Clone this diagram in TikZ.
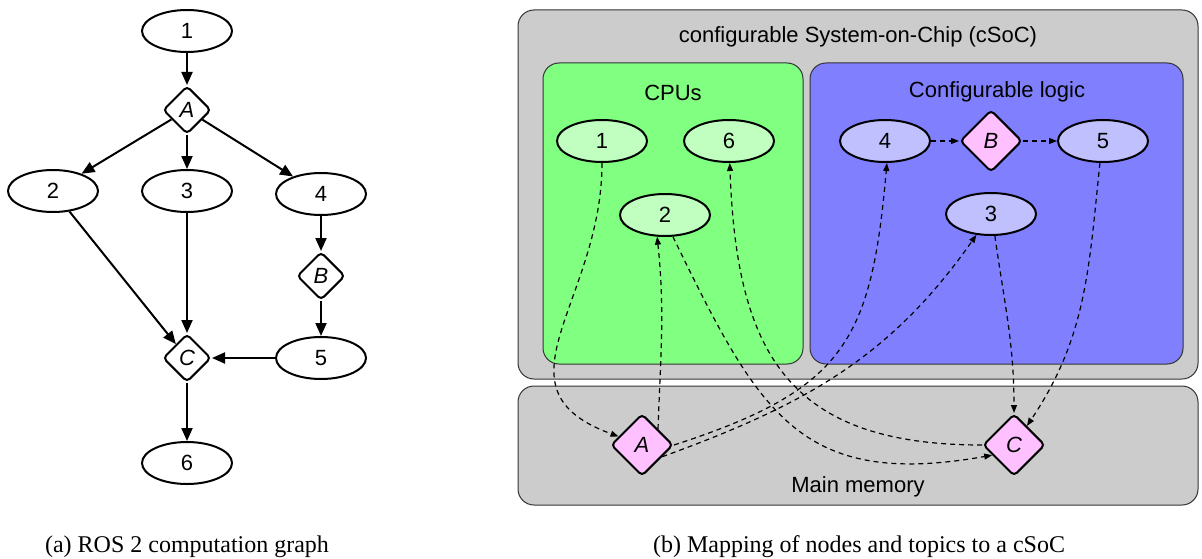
\documentclass[tikz,border=0pt]{standalone}
\usepackage{fontspec}
\setmainfont{Liberation Serif}
\setsansfont{Liberation Sans}
\usepackage{tikz}
\usetikzlibrary{shapes.geometric}
\usetikzlibrary{arrows, arrows.meta}

\definecolor{socgray}{HTML}{CCCCCC}
\definecolor{cpugreen}{HTML}{80FF80}
\definecolor{fpgablue}{HTML}{8080FF}
\definecolor{nodegreen}{HTML}{C0FFC0}
\definecolor{nodeblue}{HTML}{C0C0FF}
\definecolor{topicpink}{HTML}{FFC0FF}
\definecolor{boxline}{HTML}{333333}

\begin{document}
\begin{tikzpicture}[x=0.5pt, y=0.5pt,
  rosnode/.style={ellipse, draw, line width=1pt, minimum width=45pt, minimum height=21pt,
    inner sep=0pt, font=\sffamily\fontsize{11}{13}\selectfont},
  rostopic/.style={diamond, draw, line width=1pt, rounded corners=2pt, minimum width=24pt,
    minimum height=24pt, inner sep=0pt, font=\sffamily\itshape\fontsize{11}{13}\selectfont},
  bigtopic/.style={rostopic, fill=topicpink, minimum width=31pt, minimum height=31pt},
  unit/.style={draw=boxline, line width=0.5pt, rounded corners=8pt},
  label/.style={font=\sffamily\fontsize{11}{13}\selectfont},
  caption/.style={font=\fontsize{12}{14}\selectfont, inner sep=0pt},
  edge/.style={-{Triangle[length=6.5pt,width=5.5pt]}, line width=1pt},
  mapping/.style={-{Triangle[length=4pt,width=3pt]}, line width=0.6pt, dash pattern=on 2.5pt off 2pt}]

  \useasboundingbox (0,0) rectangle (1202,558);

  % (a) computation graph
  \node[rosnode] (l1) at (187,527) {1};
  \node[rostopic] (lA) at (187,448) {A};
  \node[rosnode] (l2) at (53,367) {2};
  \node[rosnode] (l3) at (187,367) {3};
  \node[rosnode] (l4) at (321,364) {4};
  \node[rostopic] (lB) at (321,282) {B};
  \node[rosnode] (l5) at (321,200) {5};
  \node[rostopic] (lC) at (187,200) {C};
  \node[rosnode] (l6) at (187,95) {6};

  \draw[edge] (l1) -- (lA);
  \draw[edge] (lA) -- (l2);
  \draw[edge] (lA) -- (l3);
  \draw[edge] (lA) -- (l4);
  \draw[edge] (l2) -- (lC);
  \draw[edge] (l3) -- (lC);
  \draw[edge] (l4) -- (lB);
  \draw[edge] (lB) -- (l5);
  \draw[edge] (l5) -- (lC);
  \draw[edge] (lC) -- (l6);

  \node[caption] (capa) at (187,11) {(a) ROS 2 computation graph};

  % (b) mapping to the cSoC
  \draw[unit, fill=socgray] (518,548) rectangle (1198,179);
  \draw[unit, fill=cpugreen] (543,495) rectangle (803,194);
  \draw[unit, fill=fpgablue] (810,495) rectangle (1183,194);
  \draw[unit, fill=socgray] (518,172) rectangle (1198,53);

  \node[label] (soc) at (858,521) {configurable System-on-Chip (cSoC)};
  \node[label] (cpus) at (673,465) {CPUs};
  \node[label] (fpga) at (997,466) {Configurable logic};
  \node[label] (mem) at (858,71) {Main memory};

  \node[rosnode, fill=nodegreen] (r1) at (602,417) {1};
  \node[rosnode, fill=nodegreen] (r6) at (729,417) {6};
  \node[rosnode, fill=nodegreen] (r2) at (665,343) {2};
  \node[rosnode, fill=nodeblue] (r4) at (885,417) {4};
  \node[bigtopic] (rB) at (991,417) {B};
  \node[rosnode, fill=nodeblue] (r5) at (1103,417) {5};
  \node[rosnode, fill=nodeblue] (r3) at (991,344) {3};
  \node[bigtopic] (rA) at (642,113) {A};
  \node[bigtopic] (rC) at (1014,113) {C};

  \draw[mapping] (r4) -- (rB);
  \draw[mapping] (rB) -- (r5);
  \draw[mapping] (r1) to[out=-90, in=160, looseness=1.3] (rA);
  \draw[mapping] (rA.north east) to[out=88, in=-84] (r2.-110);
  \draw[mapping] (rA.east) to[out=18, in=-95, looseness=1.3] (r4.-85);
  \draw[mapping] (rA.-30) to[out=20, in=-125] (r3);
  \draw[mapping] (r2.-70) to[out=-64, in=190, looseness=1.3] (rC.205);
  \draw[mapping] (rC.west) to[out=180, in=-88, looseness=1.3] (r6);
  \draw[mapping] (r3.-80) to[out=-82, in=90] (rC);
  \draw[mapping] (r5.-98) to[out=-96, in=56] (rC);

  \node[caption] (capb) at (859,11) {(b) Mapping of nodes and topics to a cSoC};
\end{tikzpicture}
\end{document}
